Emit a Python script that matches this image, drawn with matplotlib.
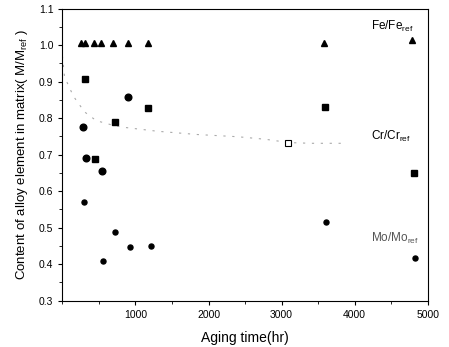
import numpy as np
import matplotlib
matplotlib.use('Agg')
import matplotlib.pyplot as plt
from matplotlib.ticker import MultipleLocator

plt.rcParams['font.family'] = ['Liberation Sans', 'DejaVu Sans']

# Fe/Fe_ref (triangles)
fe_t = [257, 312, 432, 525, 699, 893, 1176, 3587, 4790]
fe_v = [1.005, 1.005, 1.005, 1.007, 1.006, 1.006, 1.006, 1.007, 1.014]

# Cr/Cr_ref (squares)
cr_t = [312, 716, 451, 1176, 3591, 4812]
cr_v = [0.907, 0.788, 0.688, 0.829, 0.831, 0.650]

# Cr/Cr_ref (round-looking marks)
cr2_t = [280, 326, 539, 893]
cr2_v = [0.775, 0.690, 0.655, 0.858]

# Mo/Mo_ref (small circles)
mo_t = [293, 552, 726, 924, 1208, 3610, 4831]
mo_v = [0.571, 0.408, 0.487, 0.447, 0.450, 0.516, 0.418]

# open square
open_t = [3092]
open_v = [0.733]

# dotted guide curve
curve_t = [0, 29, 150, 303, 463, 700, 832, 1300, 1850, 2400, 2780, 3100, 3400, 3850]
curve_v = [0.97, 0.913, 0.86, 0.817, 0.793, 0.78, 0.775, 0.764, 0.755, 0.749, 0.742, 0.733, 0.731, 0.731]

fig = plt.figure(figsize=(4.49, 3.47), dpi=100)
ax = fig.add_axes([0.139, 0.1334, 0.8135, 0.842])

ax.plot(curve_t, curve_v, color='#aaaaaa', lw=0.8, ls=(0, (2, 6)))
ax.plot(fe_t, fe_v, '^', color='black', ms=5, ls='none')
ax.plot(cr_t, cr_v, 's', color='black', ms=4.8, ls='none')
ax.plot(cr2_t, cr2_v, 'o', color='black', ms=4.8, ls='none')
ax.plot(mo_t, mo_v, 'o', color='black', ms=3.6, ls='none')
ax.plot(open_t, open_v, 's', mfc='white', mec='black', ms=4.5, mew=0.8, ls='none')

ax.text(4230, 1.05, 'Fe/Fe$_\\mathregular{ref}$', fontsize=8.5, va='center')
ax.text(4220, 0.749, 'Cr/Cr$_\\mathregular{ref}$', fontsize=8.5, va='center')
ax.text(4230, 0.47, 'Mo/Mo$_\\mathregular{ref}$', fontsize=8.5, va='center', color='#555555')

ax.set_xlim(0, 5000)
ax.set_ylim(0.3, 1.1)
ax.xaxis.set_major_locator(MultipleLocator(1000))
ax.xaxis.set_minor_locator(MultipleLocator(500))
ax.yaxis.set_major_locator(MultipleLocator(0.1))
ax.yaxis.set_minor_locator(MultipleLocator(0.05))
ax.set_xticks([1000, 2000, 3000, 4000, 5000])
ax.yaxis.set_major_formatter(matplotlib.ticker.FormatStrFormatter('%.1f'))
ax.tick_params(which='major', direction='out', length=3, width=0.8, labelsize=7.5)
ax.tick_params(which='minor', direction='out', length=2, width=0.6)
for s in ax.spines.values():
    s.set_linewidth(0.8)

ax.set_xlabel('Aging time(hr)', fontsize=10, labelpad=8)
ax.set_ylabel('Content of alloy element in matrix( M/M$_\\mathregular{ref}$ )', fontsize=9.5, labelpad=6)

fig.savefig('out.png', dpi=100)
